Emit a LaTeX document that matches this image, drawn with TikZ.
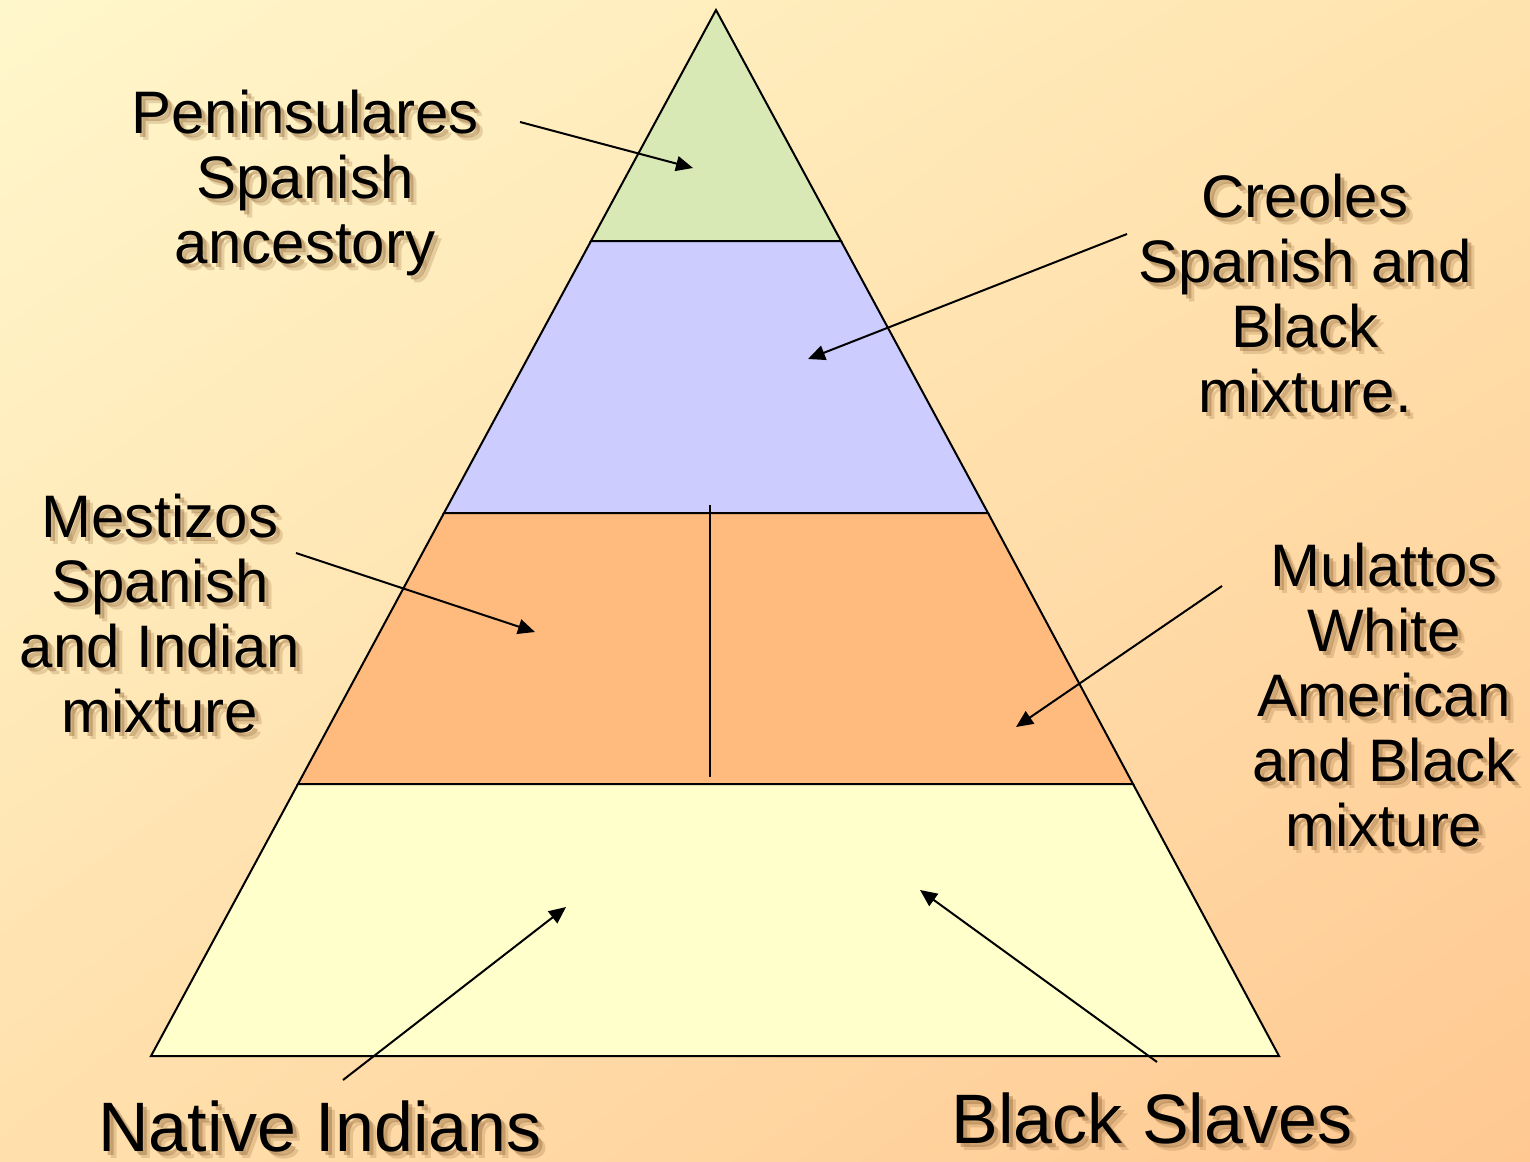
\documentclass[tikz,border=0pt]{standalone}
\usepackage{fontspec}
\setmainfont{Liberation Sans}
\usetikzlibrary{arrows.meta,shadings}

\definecolor{tipgreen}{HTML}{D9E9B5}
\definecolor{creolepurple}{HTML}{CCCCFF}
\definecolor{mixorange}{HTML}{FFBB7E}
\definecolor{baseyellow}{HTML}{FFFFCC}
\definecolor{shadowbrown}{HTML}{9A7040}
\definecolor{bgtopleft}{HTML}{FFF7CC}
\definecolor{bgtopright}{HTML}{FFE3AE}
\definecolor{bglowleft}{HTML}{FFE0AC}
\definecolor{bglowright}{HTML}{FFC892}

% label with a soft drop shadow: name, position, font style, text
\newcommand{\castelabel}[4]{%
  \node[caste text,#3,text=shadowbrown,opacity=.25,shift={(7,7)}] (#1-shade-b) at #2 {#4};
  \node[caste text,#3,text=shadowbrown,opacity=.45,shift={(4,4)}] (#1-shade-a) at #2 {#4};
  \node[caste text,#3] (#1) at #2 {#4};
}

\begin{document}
\begin{tikzpicture}[x=0.5pt,y=-0.5pt,
  caste text/.style={align=center,inner sep=0pt,text=black},
  side font/.style={font=\fontsize{30}{32.5}\selectfont},
  base font/.style={font=\fontsize{35}{37}\selectfont},
  band/.style={draw=black,line width=1pt,line join=miter},
  pointer/.style={draw=black,line width=1pt,-{Triangle[length=8.5pt,width=7.5pt]}}]
\useasboundingbox (0,0) rectangle (1530,1161);
\shade[upper left=bgtopleft,upper right=bgtopright,lower left=bglowleft,lower right=bglowright] (0,0) rectangle (1530,1161);
% pyramid corners
\coordinate (apex) at (716,10);
\coordinate (tier-1-l) at (591,241);
\coordinate (tier-1-r) at (841,241);
\coordinate (tier-2-l) at (444,513);
\coordinate (tier-2-r) at (988,513);
\coordinate (tier-3-l) at (298,784);
\coordinate (tier-3-r) at (1133,784);
\coordinate (base-l) at (151,1056);
\coordinate (base-r) at (1279,1056);
\path[band,fill=tipgreen] (apex) -- (tier-1-r) -- (tier-1-l) -- cycle;
\path[band,fill=creolepurple] (tier-1-l) -- (tier-1-r) -- (tier-2-r) -- (tier-2-l) -- cycle;
\path[band,fill=mixorange] (tier-2-l) -- (tier-2-r) -- (tier-3-r) -- (tier-3-l) -- cycle;
\path[band,fill=baseyellow] (tier-3-l) -- (tier-3-r) -- (base-r) -- (base-l) -- cycle;
\coordinate (split-top) at (710,505);
\coordinate (split-bottom) at (710,777);
\draw[line width=1pt] (split-top) -- (split-bottom);
% labels
\castelabel{peninsulares}{(305,183)}{side font}{Peninsulares\\Spanish\\ancestory}
\castelabel{creoles}{(1305,294)}{side font}{Creoles\\Spanish and\\Black\\mixture.}
\castelabel{mestizos}{(160,614)}{side font}{Mestizos\\Spanish\\and Indian\\mixture}
\castelabel{mulattos}{(1384,695)}{side font}{Mulattos\\White\\American\\and Black\\mixture}
\castelabel{natives}{(320,1126)}{base font}{Native Indians}
\castelabel{slaves}{(1152,1118)}{base font}{Black Slaves}
% pointers
\coordinate (peninsulares-from) at (520,122);
\coordinate (peninsulares-to) at (693,168);
\coordinate (creoles-from) at (1127,234);
\coordinate (creoles-to) at (808,359);
\coordinate (mestizos-from) at (296,553);
\coordinate (mestizos-to) at (535,632);
\coordinate (mulattos-from) at (1222,586);
\coordinate (mulattos-to) at (1016,727);
\coordinate (natives-from) at (343,1080);
\coordinate (natives-to) at (566,907);
\coordinate (slaves-from) at (1157,1062);
\coordinate (slaves-to) at (920,890);
\draw[pointer] (peninsulares-from) -- (peninsulares-to);
\draw[pointer] (creoles-from) -- (creoles-to);
\draw[pointer] (mestizos-from) -- (mestizos-to);
\draw[pointer] (mulattos-from) -- (mulattos-to);
\draw[pointer] (natives-from) -- (natives-to);
\draw[pointer] (slaves-from) -- (slaves-to);
\end{tikzpicture}
\end{document}
